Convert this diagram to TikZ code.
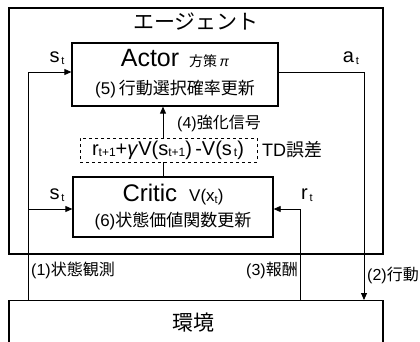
\documentclass[tikz,border=0pt]{standalone}
\usepackage{fontspec}
\setmainfont{Liberation Sans}
\newfontfamily\jp{Noto Sans CJK JP}
\usetikzlibrary{arrows.meta}
\newcommand\fs[1]{\fontsize{#1pt}{#1pt}\selectfont}
\newcommand\lo[2]{\raisebox{-0.08em}{\fs{#1}#2}}
\tikzset{
  frame/.style={draw, line width=1.4pt},
  unit/.style={draw, line width=1.3pt, minimum width=#1, inner sep=0pt},
  conn/.style={line width=0.8pt},
  arr/.style={conn, -{Triangle[length=7pt,width=6pt]}},
  lbl/.style={inner sep=0pt},
}
\begin{document}
\begin{tikzpicture}[x=1pt,y=-1pt]
\useasboundingbox (0,0) rectangle (420,342);
\clip (0,0) rectangle (420,342);
% agent frame
\node[frame, minimum width=374pt, minimum height=246pt, inner sep=0pt] (agent) at (196,131) {};
\node[lbl] (title) at (196,22) {\jp\fs{21}エージェント};
% actor
\node[unit=206pt, minimum height=63pt] (actor) at (175,74.5) {};
\node[lbl] (actorA) at (175,58) {\fs{25}Actor\hspace{10pt}{\jp\fs{14}方策}\fs{14}\,\textit{π}};
\node[lbl] (actorB) at (175,89) {\fs{17}(5)\,{\jp 行動選択確率更新}};
% critic
\node[unit=200pt, minimum height=60pt] (critic) at (173,207) {};
\node[lbl] (criticA) at (173,195) {\fs{24}Critic\hspace{12pt}\fs{17}V(x\lo{11}{t})};
\node[lbl] (criticB) at (173,221) {\fs{17}(6){\jp 状態価値関数更新}};
% TD box
\node[draw, dashed, line width=0.8pt, minimum width=177pt, minimum height=24pt, inner sep=0pt] (td) at (168.5,150) {};
\node[lbl] (tdf) at (168,150) {\fs{20}r\lo{12}{t+1}+\textit{γ}V(s\lo{12}{t+1})\,-V(s\lo{12}{\,t})};
\node[lbl, anchor=west] (tdl) at (262,150) {\fs{18}TD{\jp 誤差}};
\node[lbl, anchor=west] (sig) at (177,123) {\fs{16}(4){\jp 強化信号}};
% environment
\node[frame, minimum width=374pt, minimum height=60pt, inner sep=0pt, anchor=north] (env) at (196,300) {};
\node[lbl] (envl) at (193,323) {\jp\fs{21}環境};
% coordinates
\coordinate (L0) at (28,300);
\coordinate (L1) at (28,72);
\coordinate (L2) at (28,209);
\coordinate (R0) at (300,300);
\coordinate (R1) at (300,209);
\coordinate (A1) at (364,72);
\coordinate (A2) at (364,300);
\coordinate (tdtop) at (163,138);
\coordinate (tdbot) at (163,162);
% connectors
\draw[arr] (L0) -- (L1) -- (actor.west |- L1);
\draw[arr] (L2) -- (critic.west |- L2);
\draw[arr] (R0) -- (R1) -- (critic.east |- R1);
\draw[arr] (actor.east |- A1) -- (A1) -- (A2);
\draw[arr] (tdtop) -- (tdtop |- actor.south);
\draw[conn] (tdbot) -- (tdbot |- critic.north);
% labels
\node[lbl] (s1) at (57,58) {\fs{20}s\lo{11}{\,t}};
\node[lbl] (s2) at (57,195) {\fs{20}s\lo{11}{\,t}};
\node[lbl] (at) at (351,58) {\fs{20}a\lo{11}{\,t}};
\node[lbl] (rt) at (307,195) {\fs{20}r\lo{11}{\,t}};
\node[lbl, anchor=west] (obs) at (31,270) {\fs{16}(1){\jp 状態観測}};
\node[lbl, anchor=east] (rew) at (298,270) {\fs{16}(3){\jp 報酬}};
\node[lbl, anchor=west] (act) at (367,275) {\fs{16}(2){\jp 行動}};
\end{tikzpicture}
\end{document}
